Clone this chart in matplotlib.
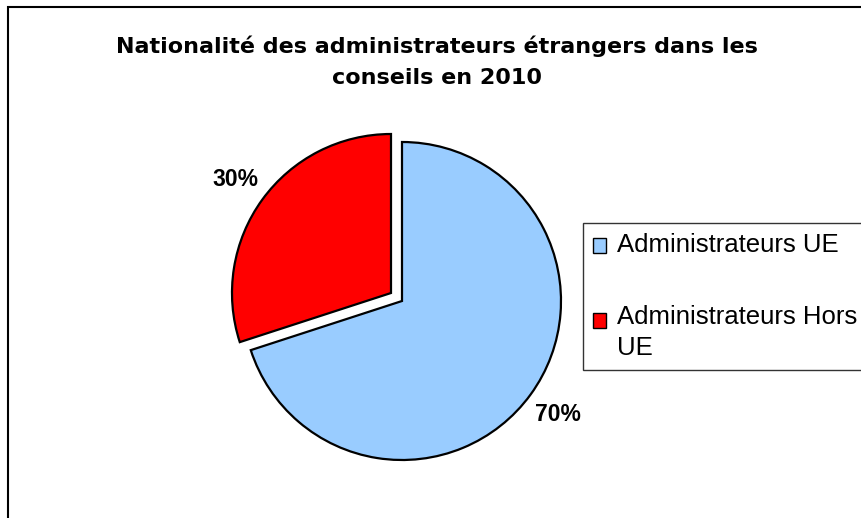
import matplotlib
matplotlib.use("Agg")
import matplotlib.pyplot as plt
from matplotlib.patches import Patch, Rectangle

plt.rcParams['font.family'] = ['Liberation Sans', 'DejaVu Sans']

title = "Nationalité des administrateurs étrangers dans les\nconseils en 2010"
categories = ["Administrateurs UE", "Administrateurs Hors\nUE"]
values = [70, 30]
colors = ["#99CCFF", "#FF0000"]

W, H = 861, 518
R = 159
fig = plt.figure(figsize=(W / 100, H / 100), dpi=100)
fig.patch.set_facecolor("white")
ax = fig.add_axes([0, 0, 1, 1])

wedges, texts, autotexts = ax.pie(
    values, colors=colors, startangle=90, counterclock=False,
    explode=[0, 13.6], radius=R, center=(402, H - 301),
    autopct=lambda p: f"{p:.0f}%", pctdistance=1.21,
    wedgeprops=dict(edgecolor="black", linewidth=1.6),
    textprops=dict(fontsize=16.5, fontweight="bold", color="black"),
)
ax.set_xlim(0, W)
ax.set_ylim(0, H)
ax.set_aspect("equal")
ax.axis("off")

fig.text(437 / W, 1 - 62 / H, title, ha="center", va="center",
         fontsize=16, fontweight="bold", linespacing=1.68,
         family=["DejaVu Sans"])

# outer chart frame
fig.add_artist(Rectangle((8 / W, -0.1), 1.2, 1 - 7 / H + 0.1,
                         transform=fig.transFigure, fill=False,
                         edgecolor="black", linewidth=1.5))

handles = [Patch(facecolor=c, edgecolor="black", linewidth=1) for c in colors]
leg = fig.legend(handles, categories, loc="upper left",
                 bbox_to_anchor=(583 / W, 1 - 223 / H), borderaxespad=0,
                 fontsize=18.5, frameon=True, fancybox=False, edgecolor="black",
                 handlelength=0.5, handleheight=0.5, handletextpad=0.42,
                 labelspacing=1.85, borderpad=0.4)
leg.get_frame().set_linewidth(1)
for t in leg.get_texts():
    t.set_linespacing(1.37)
# align the second marker with the first line of its label
h2 = leg.legend_handles[1]
h2.set_y(h2.get_y() + 9)
h1 = leg.legend_handles[0]
h1.set_y(h1.get_y() - 1.5)

fig.savefig("out.png", dpi=100)
